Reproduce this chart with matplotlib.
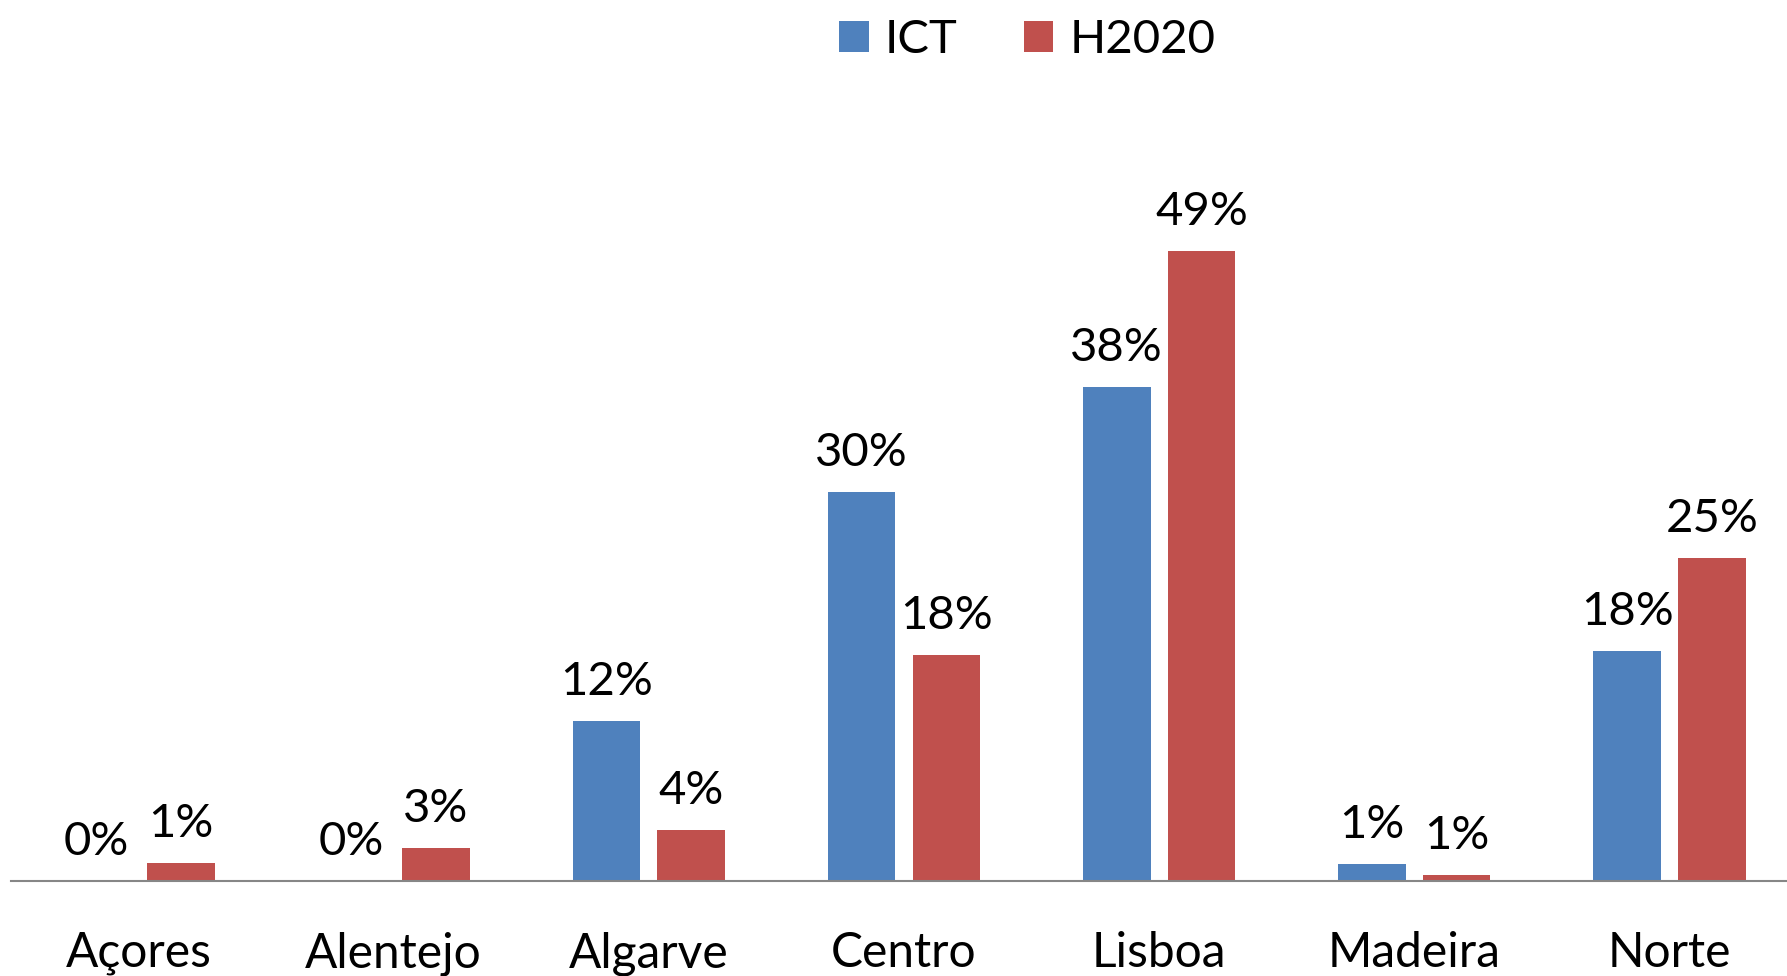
import matplotlib
matplotlib.use("Agg")
import matplotlib.pyplot as plt
import numpy as np

regions = ["Açores", "Alentejo", "Algarve", "Centro", "Lisboa", "Madeira", "Norte"]
ict = [0.0, 0.0, 12.4, 30.2, 38.4, 1.3, 17.9]
h2020 = [1.4, 2.6, 4.0, 17.6, 49.0, 0.5, 25.1]

plt.rcParams["font.family"] = ["Lato", "DejaVu Sans"]

fig = plt.figure(figsize=(17.87, 9.76), dpi=100)
ax = fig.add_axes([11 / 1787, 95 / 976, 1786 / 1787, 772 / 976])

x = np.arange(len(regions))
w = 0.265
off = 0.166
b1 = ax.bar(x - off, ict, w, color="#4F81BD", label="ICT")
b2 = ax.bar(x + off, h2020, w, color="#C0504D", label="H2020")

# value labels above each bar
for bars, vals in ((b1, ict), (b2, h2020)):
    for r, v in zip(bars, vals):
        ax.annotate(f"{int(v + 0.5)}%", (r.get_x() + r.get_width() / 2, v),
                    xytext=(0, 18.7), textcoords="offset points",
                    ha="center", va="baseline", fontsize=34)

ax.set_xlim(-0.5, 6.5)
ax.set_ylim(0, 60)
for s in ("top", "right", "left"):
    ax.spines[s].set_visible(False)
ax.spines["bottom"].set_color("#868686")
ax.spines["bottom"].set_linewidth(1.5)
ax.set_yticks([])
ax.set_xticks(x)
ax.set_xticklabels(regions, fontsize=34.5)
ax.tick_params(axis="x", length=0, pad=36)

fig.legend(loc="upper center", bbox_to_anchor=(0.575, 1.0), ncol=2, frameon=False,
           fontsize=34, handlelength=0.62, handleheight=0.62, handletextpad=0.35,
           columnspacing=1.4, borderaxespad=0.0)

fig.savefig("out.png", dpi=100)
